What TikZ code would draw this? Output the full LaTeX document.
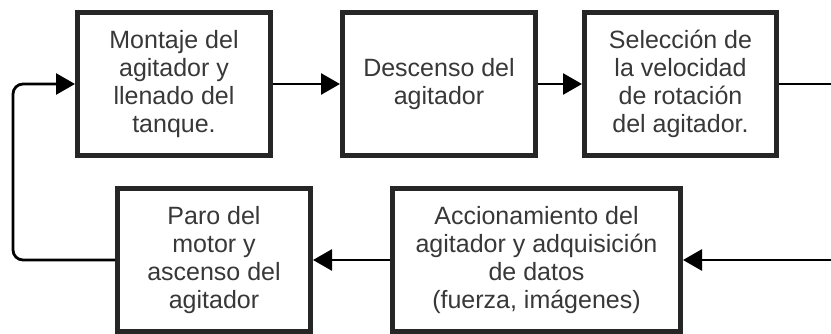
\documentclass[tikz,border=0pt]{standalone}
\usepackage{fontspec}
\setmainfont{Liberation Sans}
\usetikzlibrary{arrows.meta}

\definecolor{boxline}{HTML}{262626}
\definecolor{boxtext}{HTML}{383838}

\tikzset{
  stage/.style={draw=boxline, line width=5pt, fill=white, align=center,
    text=boxtext, font=\fontsize{25}{28}\selectfont, inner sep=0pt,
    minimum height=143pt},
  flowline/.style={line width=2.8pt, draw=black},
  flow/.style={flowline, -{Triangle[length=19pt,width=21pt]}},
}

\begin{document}
\begin{tikzpicture}[x=1pt, y=-1pt]

    % Fix the page
    \useasboundingbox (0, 0) rectangle (831, 334);

    % Upper row
    \node[stage, minimum width=193pt] (montaje) at (174, 84)
      {Montaje del\\agitador y\\llenado del\\tanque.};
    \node[stage, minimum width=193pt] (descenso) at (439, 84)
      {Descenso del\\agitador};
    \node[stage, minimum width=192pt] (seleccion) at (680.5, 84)
      {Selección de\\la velocidad\\de rotación\\del agitador.};

    % Lower row
    \node[stage, minimum width=288pt] (accion) at (536.5, 260)
      {Accionamiento del\\agitador y adquisición\\de datos\\(fuerza, imágenes)};
    \node[stage, minimum width=193pt] (paro) at (214, 260)
      {Paro del\\motor y\\ascenso del\\agitador};

    % Loose ends at the page border
    \coordinate (salida) at (831, 84);
    \coordinate (entrada) at (831, 260);
    \coordinate (vuelta) at (13, 170);

    % Connectors
    \draw[flow] (montaje) -- (descenso);
    \draw[flow] (descenso) -- (seleccion);
    \draw[flowline] (seleccion) -- (salida);
    \draw[flow] (entrada) -- (accion);
    \draw[flow] (accion) -- (paro);
    \draw[flow, rounded corners=10pt] (paro.west) -| (vuelta)
      |- (montaje.west);

\end{tikzpicture}
\end{document}
